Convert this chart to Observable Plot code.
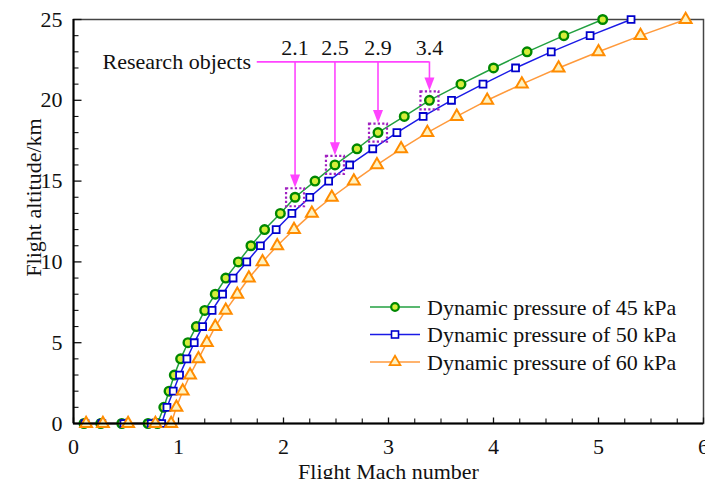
<!DOCTYPE html>
<html>
<head>
<meta charset="utf-8">
<script src="https://cdn.jsdelivr.net/npm/d3@7"></script>
<script src="https://cdn.jsdelivr.net/npm/@observablehq/plot@0.6"></script>
<style>
  html, body { margin: 0; padding: 0; background: #fff; }
  #wrap { position: relative; width: 705px; height: 479px; overflow: hidden; }
  #legend { position: absolute; left: 0; top: 0; }
</style>
</head>
<body>
<div id="wrap"></div>
<script>
// ---- data ----
const altitudes = [0,1,2,3,4,5,6,7,8,9,10,11,12,13,14,15,16,17,18,19,20,21,22,23,24,25];
const mach45 = [0.80,0.86,0.91,0.96,1.02,1.09,1.17,1.25,1.35,1.45,1.57,1.69,1.82,1.97,2.11,2.30,2.49,2.70,2.90,3.15,3.39,3.69,4.00,4.32,4.67,5.04];
const mach50 = [0.84,0.89,0.95,1.01,1.08,1.15,1.23,1.32,1.42,1.52,1.65,1.78,1.93,2.08,2.25,2.43,2.63,2.85,3.08,3.33,3.60,3.90,4.21,4.55,4.92,5.31];
const mach60 = [0.93,0.98,1.04,1.11,1.19,1.27,1.35,1.45,1.56,1.67,1.80,1.94,2.10,2.27,2.46,2.67,2.89,3.12,3.37,3.65,3.94,4.27,4.62,5.00,5.40,5.83];
// extra ground-level points (altitude 0 km) at low Mach
const ground45 = [0.10,0.26,0.46,0.71];
const ground50 = [0.11,0.27,0.48,0.74];
const ground60 = [0.12,0.28,0.52,0.78];
const seriesNames = ["Dynamic pressure of 45 kPa","Dynamic pressure of 50 kPa","Dynamic pressure of 60 kPa"];

// research objects annotation
const researchLabels = ["2.1","2.5","2.9","3.4"];
const researchMach = [2.11, 2.49, 2.90, 3.39];
const researchAlt = [14, 16, 18, 20];
const researchTitle = "Research objects";

// tick values
const xMajor = [0,1,2,3,4,5,6];
const yMajor = [0,5,10,15,20,25];

// ---- build tables ----
function build(ground, mach) {
  return ground.map(m => ({mach: m, alt: 0})).concat(altitudes.map((a, i) => ({mach: mach[i], alt: a})));
}
const d45 = build(ground45, mach45);
const d50 = build(ground50, mach50);
const d60 = build(ground60, mach60);
const research = researchLabels.map((l, i) => ({label: l, mach: researchMach[i], alt: researchAlt[i]}));

const xMinor = d3.range(0, 6.001, 0.25).filter(v => Math.abs(v - Math.round(v)) > 1e-6);
const yMinor = d3.range(0, 25.001, 1).filter(v => v % 5 !== 0);

// custom symbols
const tickUp = L => ({draw(ctx) { ctx.moveTo(0, 0); ctx.lineTo(0, -L); }});
const tickRight = L => ({draw(ctx) { ctx.moveTo(0, 0); ctx.lineTo(L, 0); }});
const arrowHead = {draw(ctx) { ctx.moveTo(0, 0); ctx.lineTo(-5, -13); ctx.lineTo(5, -13); ctx.closePath(); }};
const dottedBox = {draw(ctx) { ctx.moveTo(-9, -9); ctx.lineTo(9, -9); ctx.lineTo(9, 9); ctx.lineTo(-9, 9); ctx.closePath(); }};

const C = {
  g: "#22a040", gStroke: "#008800", gFill: "#d6ee3a",
  b: "#1a1ae6", bStroke: "#0000cc",
  o: "#ff9a3c", oStroke: "#ff8c00", oFill: "#fff2c0",
  mag: "#ff44ff", box: "#a020c0"
};
const font = "'Liberation Serif', 'Times New Roman', serif";

const lineY = 22.38, labelY = 23.26, tipOffset = 0.6;

const chart = Plot.plot({
  width: 705, height: 479,
  marginLeft: 73, marginRight: 2, marginTop: 19, marginBottom: 56,
  style: {fontFamily: font, fontSize: "22px", background: "#fff", color: "#111"},
  x: {domain: [0, 6], axis: null},
  y: {domain: [0, 25], axis: null},
  marks: [
    Plot.frame({stroke: "#444", strokeWidth: 1.5}),
    // ticks
    Plot.dot(xMajor, {x: d => d, y: 0, symbol: tickUp(6), stroke: "#111", strokeWidth: 1.3, fill: "none", r: 3}),
    Plot.dot(xMinor, {x: d => d, y: 0, symbol: tickUp(5), stroke: "#111", strokeWidth: 1.1, fill: "none", r: 3}),
    Plot.dot(yMajor, {x: 0, y: d => d, symbol: tickRight(8), stroke: "#111", strokeWidth: 1.3, fill: "none", r: 3}),
    Plot.dot(yMinor, {x: 0, y: d => d, symbol: tickRight(5), stroke: "#111", strokeWidth: 1.1, fill: "none", r: 3}),
    // tick labels
    Plot.text(xMajor, {x: d => d, y: 0, text: d => String(d), dy: 23, fontSize: 22, fill: "#111"}),
    Plot.text(yMajor, {x: 0, y: d => d, text: d => String(d), dx: -11, textAnchor: "end", fontSize: 22, fill: "#111"}),
    // axis titles
    Plot.text(["Flight Mach number"], {frameAnchor: "bottom", textAnchor: "middle", lineAnchor: "middle", dy: 48, fontSize: 22, fill: "#111"}),
    Plot.text(["Flight altitude/km"], {frameAnchor: "left", textAnchor: "middle", dx: -40, dy: -24, rotate: -90, fontSize: 22, fill: "#111"}),
    // series
    Plot.line(d45, {x: "mach", y: "alt", stroke: C.g, strokeWidth: 1.5}),
    Plot.line(d50, {x: "mach", y: "alt", stroke: C.b, strokeWidth: 1.5}),
    Plot.line(d60, {x: "mach", y: "alt", stroke: C.o, strokeWidth: 1.5}),
    Plot.dot(d45, {x: "mach", y: "alt", r: 4.3, stroke: C.gStroke, strokeWidth: 2.4, fill: C.gFill}),
    Plot.dot(d50, {x: "mach", y: "alt", symbol: "square", r: 3.9, stroke: C.bStroke, strokeWidth: 1.8, fill: "#fff"}),
    Plot.dot(d60, {x: "mach", y: "alt", symbol: "triangle", r: 4.4, stroke: C.oStroke, strokeWidth: 2, fill: C.oFill}),
    // axis lines (left & bottom)
    Plot.ruleY([0], {stroke: "#000", strokeWidth: 2}),
    Plot.ruleX([0], {stroke: "#000", strokeWidth: 2}),
    // annotation
    Plot.dot(research, {x: "mach", y: "alt", symbol: dottedBox, r: 5, stroke: C.box, strokeWidth: 2.2, strokeDasharray: "2.2,2.2", fill: "none"}),
    Plot.ruleY([lineY], {x1: 1.75, x2: researchMach[researchMach.length - 1], stroke: C.mag, strokeWidth: 1.6}),
    Plot.ruleX(research, {x: "mach", y1: lineY, y2: d => d.alt + tipOffset + 0.7, stroke: C.mag, strokeWidth: 1.6}),
    Plot.dot(research, {x: "mach", y: d => d.alt + tipOffset, symbol: arrowHead, r: 5, fill: C.mag, stroke: "none"}),
    Plot.text(research, {x: "mach", y: labelY, text: "label", fontSize: 22, fill: "#111"}),
    Plot.text([researchTitle], {x: 1.69, y: lineY, textAnchor: "end", fontSize: 22, fill: "#111"})
  ]
});
const wrap = document.getElementById("wrap");
wrap.appendChild(chart);

// legend overlay
const legendRows = [
  {name: seriesNames[0], line: C.g, kind: "circle"},
  {name: seriesNames[1], line: C.b, kind: "square"},
  {name: seriesNames[2], line: C.o, kind: "triangle"}
];
const lg = d3.create("svg").attr("id", "legend").attr("width", 705).attr("height", 479);
legendRows.forEach((r, i) => {
  const y = 307 + i * 27.5;
  const g = lg.append("g");
  g.append("line").attr("x1", 370).attr("x2", 420).attr("y1", y).attr("y2", y).attr("stroke", r.line).attr("stroke-width", 1.5);
  if (r.kind === "circle") g.append("circle").attr("cx", 395).attr("cy", y).attr("r", 3.8).attr("fill", C.gFill).attr("stroke", C.gStroke).attr("stroke-width", 2.2);
  if (r.kind === "square") g.append("rect").attr("x", 391.5).attr("y", y - 3.5).attr("width", 7).attr("height", 7).attr("fill", "#fff").attr("stroke", C.bStroke).attr("stroke-width", 1.6);
  if (r.kind === "triangle") g.append("path").attr("d", d3.symbol(d3.symbolTriangle, 50)()).attr("transform", `translate(395,${y})`).attr("fill", C.oFill).attr("stroke", C.oStroke).attr("stroke-width", 1.8);
  g.append("text").attr("x", 427).attr("y", y).attr("dy", "0.35em").attr("font-family", font).attr("font-size", 22).attr("fill", "#111").text(r.name);
});
wrap.appendChild(lg.node());
</script>
</body>
</html>
